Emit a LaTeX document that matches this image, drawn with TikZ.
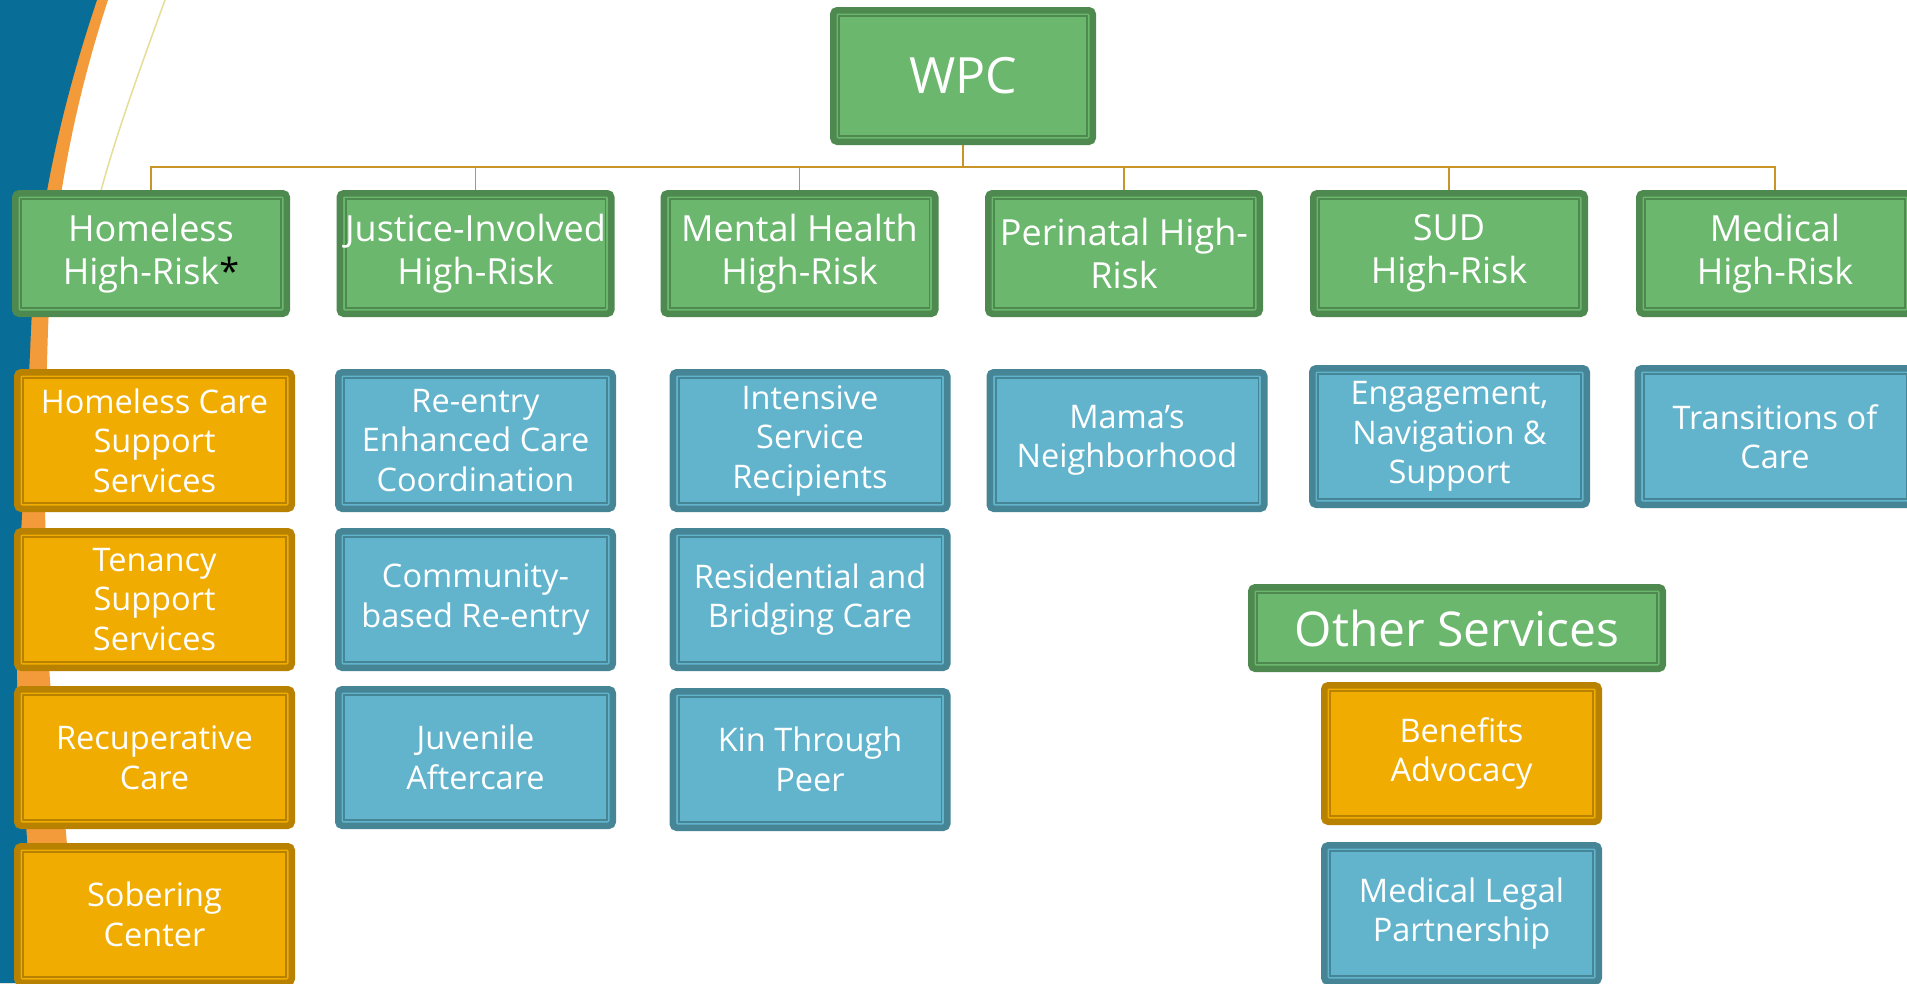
\documentclass[tikz,border=0pt]{standalone}
\usepackage{fontspec}
\setmainfont{Open Sans}
\definecolor{gfill}{RGB}{107,183,109}
\definecolor{gdark}{RGB}{78,138,80}
\definecolor{ofill}{RGB}{240,172,0}
\definecolor{odark}{RGB}{184,130,0}
\definecolor{bfill}{RGB}{98,180,205}
\definecolor{bdark}{RGB}{70,133,150}
\definecolor{conncol}{RGB}{200,150,40}
\definecolor{swblue}{RGB}{8,110,152}
\definecolor{sworange}{RGB}{243,154,58}
\definecolor{swline}{RGB}{228,222,150}
\pgfdeclarelayer{bgA}
\pgfdeclarelayer{bgB}
\pgfsetlayers{bgA,bgB,main}
\tikzset{
  card/.style n args={4}{rectangle, rounded corners=4pt, fill=#1, draw=#2,
    line width=6.5pt, inner sep=0pt, text=white, align=center,
    minimum width={(#3-6.5)*1pt}, minimum height={(#4-6.5)*1pt},
    path picture={\draw[#2, line width=1.7pt, sharp corners]
      ([shift={(5.9pt,5.9pt)}]path picture bounding box.south west) rectangle
      ([shift={(-5.9pt,-5.9pt)}]path picture bounding box.north east);}},
  topbox/.style={card={gfill}{gdark}{266}{138}, font=\fontsize{50}{60}\selectfont},
  lvtwo/.style={card={gfill}{gdark}{278}{127}, font=\fontsize{36}{43}\selectfont},
  obox/.style={card={ofill}{odark}{281}{143}, font=\fontsize{32.5}{39.5}\selectfont},
  bbox/.style={card={bfill}{bdark}{281}{143}, font=\fontsize{32.5}{39.5}\selectfont},
  otherbox/.style={card={gfill}{gdark}{418}{88}, font=\fontsize{48}{58}\selectfont},
  conn/.style={draw=conncol, line width=1.8pt}
}
\begin{document}
\begin{tikzpicture}[x=1pt,y=-1pt]
\useasboundingbox (0,0) rectangle (1907,983);
% background swoosh
\begin{pgfonlayer}{bgA}
  \fill[white] (0,0) rectangle (1907,983);
  \fill[sworange] (97,0) -- (108,0) .. controls (72,110) and (52,220) .. (48,330)
     .. controls (44,450) and (44,600) .. (50,680) .. controls (56,760) and (68,820) .. (70,900)
     -- (70,983) -- (20,983) -- (0,983) -- (0,0) -- cycle;
  \fill[swblue] (0,0) -- (97,0) .. controls (60,110) and (36,220) .. (31,330)
     .. controls (26,450) and (16,600) .. (17,680) .. controls (18,760) and (28,820) .. (28,870)
     -- (24,983) -- (0,983) -- cycle;
  \draw[swline, line width=1.5pt] (165,0) .. controls (125,110) and (100,180) .. (85,260);
\end{pgfonlayer}

% nodes
\node[topbox] (wpc) at (963,76) {WPC};

\node[lvtwo] (hh) at (151,253.5) {Homeless\\High-Risk{\color{black}*}};
\node[lvtwo] (ji) at (475.5,253.5) {Justice-Involved\\High-Risk};
\node[lvtwo] (mh) at (799.5,253.5) {Mental Health\\High-Risk};
\node[lvtwo] (pn) at (1124,253.5) {Perinatal High-\\Risk};
\node[lvtwo] (sud) at (1449,253.5) {SUD\\High-Risk};
\node[lvtwo] (med) at (1775,253.5) {Medical\\High-Risk};

\node[obox] (hcs) at (154.5,440.5) {Homeless Care\\Support\\Services};
\node[obox] (tss) at (154.5,599.5) {Tenancy\\Support\\Services};
\node[obox] (rc) at (154.5,757.5) {Recuperative\\Care};
\node[obox] (sc) at (154.5,914.5) {Sobering\\Center};

\node[bbox] (reecc) at (475.5,440.5) {Re-entry\\Enhanced Care\\Coordination};
\node[bbox] (cbre) at (475.5,599.5) {Community-\\based Re-entry};
\node[bbox] (ja) at (475.5,757.5) {Juvenile\\Aftercare};

\node[bbox] (isr) at (810,440.5) {Intensive\\Service\\Recipients};
\node[bbox] (rbc) at (810,599.5) {Residential and\\Bridging Care};
\node[bbox] (ktp) at (810,759.5) {Kin Through\\Peer};

\node[bbox] (mama) at (1127,440.5) {Mama’s\\Neighborhood};
\node[bbox] (ens) at (1449.5,436.5) {Engagement,\\Navigation \&\\Support};
\node[bbox] (toc) at (1775,436.5) {Transitions of\\Care};

\node[otherbox] (os) at (1457,628) {Other Services};
\node[obox] (ba) at (1461.5,753.5) {Benefits\\Advocacy};
\node[bbox] (mlp) at (1461.5,913.5) {Medical Legal\\Partnership};

% connectors
\coordinate (bus) at (963,167);
\begin{pgfonlayer}{bgB}
  \draw[conn] (wpc) -- (bus);
  \foreach \n in {hh,ji,mh,pn,sud,med} \draw[conn] (bus) -| (\n);
\end{pgfonlayer}
\end{tikzpicture}
\end{document}
